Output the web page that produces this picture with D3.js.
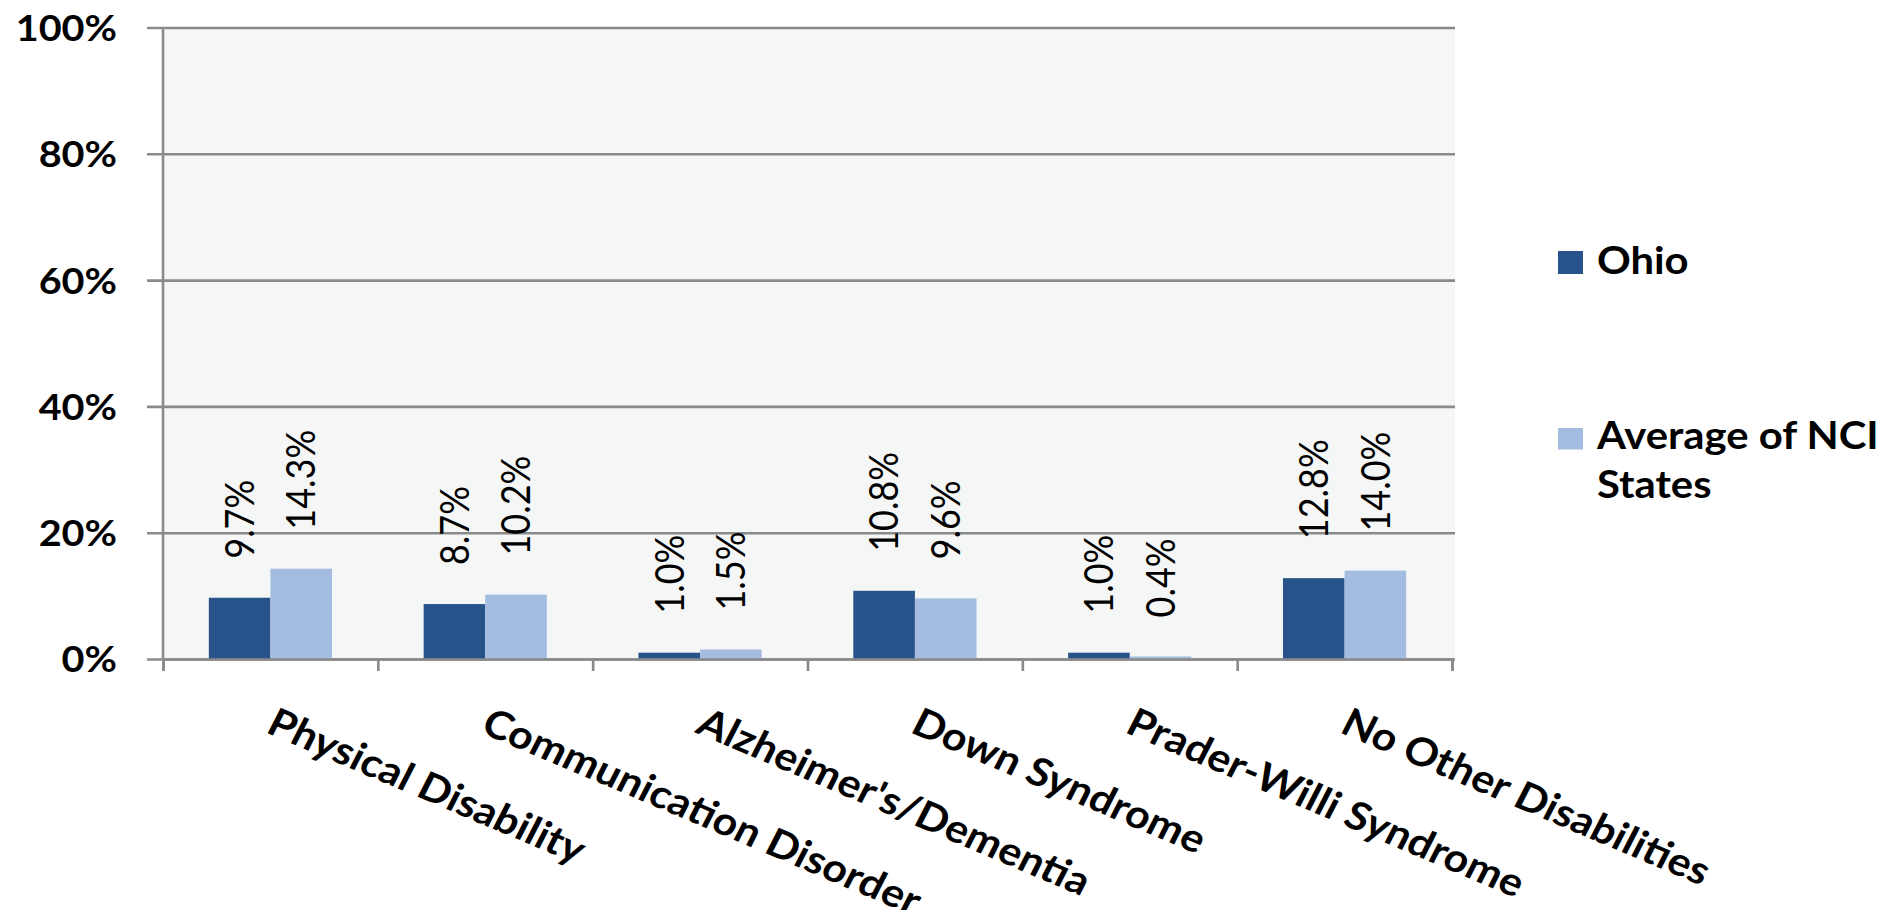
<!DOCTYPE html>
<html>
<head>
<meta charset="utf-8">
<script src="https://cdn.jsdelivr.net/npm/d3@7"></script>
<style>
  html, body { margin: 0; padding: 0; background: #ffffff; }
  svg { display: block; }
  text { font-family: Lato, "Open Sans", sans-serif; fill: #000; }
</style>
</head>
<body>
<svg id="chart" width="1897" height="910"></svg>
<script>
// Share of people with each additional condition: Ohio vs. the NCI states average
const categories = [
  "Physical Disability",
  "Communication Disorder",
  "Alzheimer's/Dementia",
  "Down Syndrome",
  "Prader-Willi Syndrome",
  "No Other Disabilities"
];
const ohio = [9.7, 8.7, 1.0, 10.8, 1.0, 12.8];
const nciAverage = [14.3, 10.2, 1.5, 9.6, 0.4, 14.0];
const seriesNames = ["Ohio", "Average of NCI States"];
const seriesColors = ["#28528a", "#a5bce1"];
const yTicks = [0, 20, 40, 60, 80, 100];

const svg = d3.select("#chart");
const plot = { left: 163, right: 1452, top: 27.5, bottom: 659 };
const widen = 1.1;          // text is drawn slightly wide
const axisGrey = "#8a8a8a";

const y = d3.scaleLinear().domain([0, 100]).range([plot.bottom, plot.top]);
const x0 = d3.scaleBand().domain(categories)
  .range([plot.left, plot.right])
  .paddingInner(0.4265).paddingOuter(0.21325);
const x1 = d3.scaleBand().domain(seriesNames).range([0, x0.bandwidth()]).padding(0);
const catEdges = d3.scaleLinear().domain([0, categories.length]).range([plot.left, plot.right]);

// plot background
svg.append("rect")
  .attr("x", plot.left).attr("y", plot.top)
  .attr("width", plot.right + 3 - plot.left).attr("height", plot.bottom - plot.top)
  .attr("fill", "#f5f7f7");

// horizontal gridlines (with the short outer tick on the left)
const grid = svg.append("g")
  .attr("transform", `translate(${plot.left - 16},0)`)
  .call(d3.axisRight(y).tickValues(yTicks).tickSize(plot.right + 3 - plot.left + 16).tickFormat(""));
grid.select(".domain").remove();
grid.selectAll(".tick line").attr("stroke", axisGrey).attr("stroke-width", 2.6);

// y axis labels
const yAxis = svg.append("g")
  .attr("transform", `translate(${plot.left},0)`)
  .call(d3.axisLeft(y).tickValues(yTicks).tickSize(0).tickFormat(d => d + "%"));
yAxis.select(".domain").remove();
yAxis.selectAll(".tick text")
  .attr("x", 0).attr("dy", "0.36em")
  .attr("transform", `translate(-46,0) scale(${widen},1)`)
  .style("font-size", "36px").style("font-weight", 700)
  .style("font-family", "Lato, sans-serif")
  .attr("text-anchor", "end");

// bars
const groups = svg.append("g").selectAll("g")
  .data(categories)
  .join("g")
  .attr("transform", d => `translate(${x0(d)},0)`);

const rows = categories.map((c, i) => [
  { series: seriesNames[0], value: ohio[i] },
  { series: seriesNames[1], value: nciAverage[i] }
]);

groups.selectAll("rect")
  .data((d, i) => rows[i])
  .join("rect")
  .attr("x", d => x1(d.series))
  .attr("y", d => y(d.value))
  .attr("width", x1.bandwidth())
  .attr("height", d => y(0) - y(d.value))
  .attr("fill", (d, i) => seriesColors[i]);

// value labels, rotated
groups.selectAll("text.value")
  .data((d, i) => rows[i])
  .join("text")
  .attr("class", "value")
  .attr("transform", d => `translate(${x1(d.series) + x1.bandwidth() / 2},${y(d.value) - 39}) scale(${widen},1) rotate(-90)`)
  .attr("dy", "0.36em")
  .attr("text-anchor", "start")
  .style("font-size", "36px")
  .text(d => d.value.toFixed(1) + "%");

// axes lines
svg.append("line")
  .attr("x1", plot.left).attr("x2", plot.left)
  .attr("y1", plot.top).attr("y2", plot.bottom)
  .attr("stroke", axisGrey).attr("stroke-width", 2.6);

const xAxis = svg.append("g")
  .attr("transform", `translate(0,${plot.bottom})`)
  .call(d3.axisBottom(catEdges).ticks(categories.length).tickSize(12).tickFormat(""));
xAxis.select(".domain").attr("stroke", axisGrey).attr("stroke-width", 2.6);
xAxis.selectAll(".tick line").attr("stroke", axisGrey).attr("stroke-width", 2.6);

// category labels, slanted
svg.append("g").selectAll("text")
  .data(categories)
  .join("text")
  .attr("transform", d => `translate(${x0(d) + x0.bandwidth() / 2 - 6},732) scale(${widen},1) rotate(25)`)
  .attr("text-anchor", "start")
  .style("font-size", "39px")
  .style("font-weight", 700)
  .text(d => d);

// legend
const legend = svg.append("g");
const legendRows = [
  { name: seriesNames[0], lines: ["Ohio"], top: 251, h: 23, baseline: 274 },
  { name: seriesNames[1], lines: ["Average of NCI", "States"], top: 428, h: 21.5, baseline: 449.3 }
];
legendRows.forEach((r, i) => {
  legend.append("rect")
    .attr("x", 1558).attr("y", r.top)
    .attr("width", 25).attr("height", r.h)
    .attr("fill", seriesColors[i]);
  r.lines.forEach((ln, j) => {
    legend.append("text")
      .attr("transform", `translate(1597,${r.baseline + j * 49}) scale(${widen},1)`)
      .style("font-size", "38px").style("font-weight", 700)
      .text(ln);
  });
});
</script>
</body>
</html>
